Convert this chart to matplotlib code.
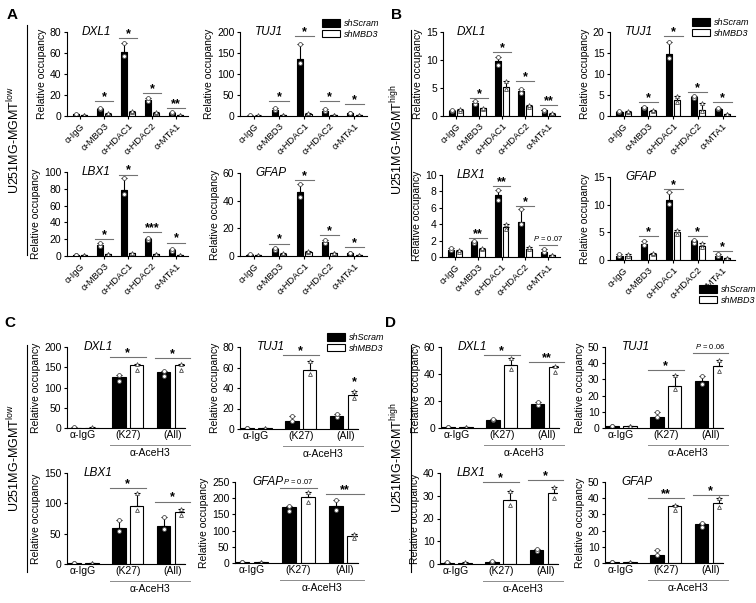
import matplotlib
matplotlib.use("Agg")
import matplotlib.pyplot as plt
import matplotlib.transforms as mtransforms
from matplotlib.patches import Patch
from matplotlib.lines import Line2D

plt.rcParams["font.family"] = ["Liberation Sans", "DejaVu Sans"]
plt.rcParams["mathtext.fontset"] = "custom"
plt.rcParams["mathtext.rm"] = "Liberation Sans"
plt.rcParams["mathtext.it"] = "Liberation Sans:italic"
plt.rcParams["axes.linewidth"] = 0.8

W, H = 756, 603

# ─── Data (mean, top of error bar) ────────────────────────────────────────────
AB_GROUPS = ["α-IgG", "α-MBD3", "α-HDAC1", "α-HDAC2", "α-MTA1"]
CD_GROUPS = ["α-IgG", "(K27)", "(All)"]

# Panel A  (U251MG-MGMT low)
A_DXL1_SCR = [1.5, 7, 61, 15, 3];        A_DXL1_SCR_TOP = [1.8, 8, 70, 17, 3.5]
A_DXL1_MBD = [1, 2, 4, 3, 1];            A_DXL1_MBD_TOP = [1.2, 2.5, 5, 3.5, 1.2]
A_DXL1_SIG = ["*", "*", "*", "**"];      A_DXL1_SIG_Y = [14, 74, 22, 8]

A_TUJ1_SCR = [1, 15, 136, 13, 7];        A_TUJ1_SCR_TOP = [1.5, 18, 172, 16, 8]
A_TUJ1_MBD = [1, 2, 5, 2, 2];            A_TUJ1_MBD_TOP = [1.5, 2.5, 6, 2.5, 2.5]
A_TUJ1_SIG = ["*", "*", "*", "*"];       A_TUJ1_SIG_Y = [35, 190, 35, 28]

A_LBX1_SCR = [1, 13, 79, 20, 7];         A_LBX1_SCR_TOP = [1.3, 15, 93, 21, 8]
A_LBX1_MBD = [1, 2, 3, 2, 1];            A_LBX1_MBD_TOP = [1.3, 2.5, 4, 2.5, 1.2]
A_LBX1_SIG = ["*", "*", "***", "*"];     A_LBX1_SIG_Y = [20, 97, 28, 16]

A_GFAP_SCR = [1, 5, 46, 10, 2];          A_GFAP_SCR_TOP = [1.2, 6, 52, 11.5, 2.5]
A_GFAP_MBD = [0.5, 1.5, 3, 2, 0.5];      A_GFAP_MBD_TOP = [0.7, 2, 3.5, 2.5, 0.8]
A_GFAP_SIG = ["*", "*", "*", "*"];       A_GFAP_SIG_Y = [9, 55, 15, 6.5]

# Panel B  (U251MG-MGMT high)
B_DXL1_SCR = [0.9, 2.3, 9.8, 4.5, 1.0];  B_DXL1_SCR_TOP = [1.1, 2.6, 10.6, 4.8, 1.1]
B_DXL1_MBD = [1.0, 1.4, 5.1, 1.8, 0.4];  B_DXL1_MBD_TOP = [1.3, 1.5, 6.2, 2.0, 0.5]
B_DXL1_SIG = ["*", "*", "*", "**"];      B_DXL1_SIG_Y = [3.2, 11.5, 6.2, 2.0]

B_TUJ1_SCR = [1.0, 2.1, 14.8, 4.6, 1.7]; B_TUJ1_SCR_TOP = [1.3, 2.2, 17.7, 4.8, 1.8]
B_TUJ1_MBD = [0.9, 1.2, 3.7, 1.4, 0.4];  B_TUJ1_MBD_TOP = [1.1, 1.5, 4.7, 3.0, 0.5]
B_TUJ1_SIG = ["*", "*", "*", "*"];       B_TUJ1_SIG_Y = [3.3, 19, 5.7, 3.3]

B_LBX1_SCR = [0.9, 1.8, 7.5, 4.3, 0.6];  B_LBX1_SCR_TOP = [1.1, 2.0, 8.2, 5.8, 1.0]
B_LBX1_MBD = [0.7, 1.0, 3.7, 1.0, 0.2];  B_LBX1_MBD_TOP = [0.8, 1.1, 4.0, 1.2, 0.3]
B_LBX1_SIG = ["**", "**", "*", "P = 0.07"]; B_LBX1_SIG_Y = [2.3, 8.7, 6.2, 1.5]

B_GFAP_SCR = [0.8, 2.9, 10.8, 3.4, 0.8]; B_GFAP_SCR_TOP = [1.0, 3.5, 12.2, 3.7, 1.0]
B_GFAP_MBD = [0.8, 1.1, 5.0, 2.6, 0.3];  B_GFAP_MBD_TOP = [1.0, 1.2, 5.4, 3.0, 0.4]
B_GFAP_SIG = ["*", "*", "*", "*"];       B_GFAP_SIG_Y = [4.3, 12.9, 4.3, 1.6]

# Panel C  (U251MG-MGMT low, α-AceH3)
C_DXL1_SCR = [1, 126, 138];    C_DXL1_SCR_TOP = [1.5, 132, 141]
C_DXL1_MBD = [1, 155, 155];    C_DXL1_MBD_TOP = [1.5, 158, 159]
C_DXL1_SIG = ["*", "*"];       C_DXL1_SIG_Y = [175, 172]

C_TUJ1_SCR = [1, 8, 13];       C_TUJ1_SCR_TOP = [1.3, 13, 15]
C_TUJ1_MBD = [1, 58, 33];      C_TUJ1_MBD_TOP = [1.3, 66, 37]
C_TUJ1_SIG = ["*", "*"];       C_TUJ1_SIG_Y = [72, None]

C_LBX1_SCR = [1, 59, 62];      C_LBX1_SCR_TOP = [1.5, 73, 78]
C_LBX1_MBD = [1, 96, 86];      C_LBX1_MBD_TOP = [1.5, 117, 90]
C_LBX1_SIG = ["*", "*"];       C_LBX1_SIG_Y = [125, 103]

C_GFAP_SCR = [2, 172, 175];    C_GFAP_SCR_TOP = [2.5, 176, 195]
C_GFAP_MBD = [2, 203, 82];     C_GFAP_MBD_TOP = [2.5, 220, 88]
C_GFAP_SIG = ["P = 0.07", "**"]; C_GFAP_SIG_Y = [232, 212]

# Panel D  (U251MG-MGMT high, α-AceH3)
D_DXL1_SCR = [0.5, 6, 18];     D_DXL1_SCR_TOP = [0.7, 7, 19]
D_DXL1_MBD = [0.5, 47, 45];    D_DXL1_MBD_TOP = [0.7, 52, 46]
D_DXL1_SIG = ["*", "**"];      D_DXL1_SIG_Y = [54, 49]

D_TUJ1_SCR = [1, 7, 29];       D_TUJ1_SCR_TOP = [1.2, 10, 32]
D_TUJ1_MBD = [1, 26, 38];      D_TUJ1_MBD_TOP = [1.2, 33, 42]
D_TUJ1_SIG = ["*", "P = 0.06"]; D_TUJ1_SIG_Y = [36, 46]

D_LBX1_SCR = [0.5, 1, 6];      D_LBX1_SCR_TOP = [0.7, 1.5, 6.5]
D_LBX1_MBD = [0.5, 28, 31];    D_LBX1_MBD_TOP = [0.7, 32, 34]
D_LBX1_SIG = ["*", "*"];       D_LBX1_SIG_Y = [36, 37]

D_GFAP_SCR = [0.5, 5, 24];     D_GFAP_SCR_TOP = [0.7, 8, 25]
D_GFAP_MBD = [0.5, 35, 37];    D_GFAP_MBD_TOP = [0.7, 36, 40]
D_GFAP_SIG = ["**", "*"];      D_GFAP_SIG_Y = [40, 42]


# ─── Helpers ──────────────────────────────────────────────────────────────────

def add_ax(fig, x0, yt, x1, yb):
    return fig.add_axes([x0 / W, 1 - yb / H, (x1 - x0) / W, (yb - yt) / H])


def sig_text(ax, x, y, label, span):
    if span:
        ax.plot([x - span, x + span], [y, y], color="0.45", lw=0.8, clip_on=False)
    if label.startswith("P"):
        ax.annotate("$P$ = " + label.split("= ")[1], (x, y), xytext=(0, 1.5),
                    textcoords="offset points", ha="center", va="bottom", fontsize=5.5)
    else:
        ax.annotate(label, (x, y), xytext=(0, -1.5), textcoords="offset points",
                    ha="center", va="bottom", fontsize=9, fontweight="bold")


def chip_panel(ax, gene, labels, scr, scr_top, mbd, mbd_top, sig, sig_y,
               ymax, ystep, wide=False):
    n = len(labels)
    off, bw = (0.2, 0.3) if wide else (0.17, 0.25)
    xs = list(range(n))
    for i in xs:
        for x, m, t, fc, mk in [(i - off, scr[i], scr_top[i], "black", "o"),
                                (i + off, mbd[i], mbd_top[i], "white", "^")]:
            ax.bar(x, m, bw, color=fc, edgecolor="black", linewidth=0.8)
            ax.errorbar(x, m, yerr=[[0], [t - m]], color="black", lw=0.8,
                        capsize=2.2, capthick=0.8)
            ax.plot([x, x], [m * 0.93, t], ls="none", marker=mk, ms=2.8,
                    mfc="white", mec="0.3", mew=0.6)
    ax.set_xlim(-0.55 if not wide else -0.36, n - 0.5 if not wide else n - 0.72)
    ax.set_ylim(0, ymax)
    ax.set_yticks([v * ystep for v in range(int(round(ymax / ystep)) + 1)])
    for s in ("top", "right"):
        ax.spines[s].set_visible(False)
    ax.tick_params(labelsize=7.5, length=2.5, width=0.8, pad=1.5)
    ax.set_ylabel("Relative occupancy", fontsize=7.5, labelpad=2)
    ax.text(0.12 if not wide else 0.14, 1.0, gene, transform=ax.transAxes,
            fontsize=8.5, style="italic", va="center", ha="left")
    ax.set_xticks(xs)
    if wide:
        ax.set_xticklabels(labels, fontsize=7.5)
        ax.tick_params(axis="x", length=0)
        tr_line = mtransforms.offset_copy(ax.get_xaxis_transform(), fig=ax.figure,
                                          y=-17, units="dots")
        tr_text = mtransforms.offset_copy(ax.get_xaxis_transform(), fig=ax.figure,
                                          y=-20, units="dots")
        ax.plot([1 - 0.4, 2 + 0.4], [0, 0], color="0.55", lw=0.7,
                transform=tr_line, clip_on=False)
        ax.text(1.5, 0, "α-AceH3", transform=tr_text, ha="center", va="top",
                fontsize=7.5)
    else:
        ax.set_xticklabels(labels, fontsize=6.8, rotation=45, ha="right",
                           rotation_mode="anchor")
    for k, (lab, y) in enumerate(zip(sig, sig_y)):
        g = k + 1
        if y is None:
            sig_text(ax, g + off, mbd_top[g] + ymax * 0.06, lab, 0)
        else:
            sig_text(ax, g, y, lab, 0.4 if wide else 0.38)


fig = plt.figure(figsize=(W / 100, H / 100), dpi=100)

# Panel A
chip_panel(add_ax(fig, 67, 32, 188, 116), "DXL1", AB_GROUPS, A_DXL1_SCR, A_DXL1_SCR_TOP,
           A_DXL1_MBD, A_DXL1_MBD_TOP, A_DXL1_SIG, A_DXL1_SIG_Y, 80, 20)
chip_panel(add_ax(fig, 240, 32, 367, 116), "TUJ1", AB_GROUPS, A_TUJ1_SCR, A_TUJ1_SCR_TOP,
           A_TUJ1_MBD, A_TUJ1_MBD_TOP, A_TUJ1_SIG, A_TUJ1_SIG_Y, 200, 50)
chip_panel(add_ax(fig, 67, 172, 188, 256), "LBX1", AB_GROUPS, A_LBX1_SCR, A_LBX1_SCR_TOP,
           A_LBX1_MBD, A_LBX1_MBD_TOP, A_LBX1_SIG, A_LBX1_SIG_Y, 100, 20)
chip_panel(add_ax(fig, 240, 173, 367, 256), "GFAP", AB_GROUPS, A_GFAP_SCR, A_GFAP_SCR_TOP,
           A_GFAP_MBD, A_GFAP_MBD_TOP, A_GFAP_SIG, A_GFAP_SIG_Y, 60, 20)

# Panel B
chip_panel(add_ax(fig, 443, 32, 560, 116), "DXL1", AB_GROUPS, B_DXL1_SCR, B_DXL1_SCR_TOP,
           B_DXL1_MBD, B_DXL1_MBD_TOP, B_DXL1_SIG, B_DXL1_SIG_Y, 15, 5)
chip_panel(add_ax(fig, 610, 32, 735, 116), "TUJ1", AB_GROUPS, B_TUJ1_SCR, B_TUJ1_SCR_TOP,
           B_TUJ1_MBD, B_TUJ1_MBD_TOP, B_TUJ1_SIG, B_TUJ1_SIG_Y, 20, 5)
chip_panel(add_ax(fig, 442, 175, 560, 257), "LBX1", AB_GROUPS, B_LBX1_SCR, B_LBX1_SCR_TOP,
           B_LBX1_MBD, B_LBX1_MBD_TOP, B_LBX1_SIG, B_LBX1_SIG_Y, 10, 2)
chip_panel(add_ax(fig, 610, 177, 735, 260), "GFAP", AB_GROUPS, B_GFAP_SCR, B_GFAP_SCR_TOP,
           B_GFAP_MBD, B_GFAP_MBD_TOP, B_GFAP_SIG, B_GFAP_SIG_Y, 15, 5)

# Panel C
chip_panel(add_ax(fig, 67, 347, 185, 428), "DXL1", CD_GROUPS, C_DXL1_SCR, C_DXL1_SCR_TOP,
           C_DXL1_MBD, C_DXL1_MBD_TOP, C_DXL1_SIG, C_DXL1_SIG_Y, 200, 50, wide=True)
chip_panel(add_ax(fig, 240, 347, 358, 429), "TUJ1", CD_GROUPS, C_TUJ1_SCR, C_TUJ1_SCR_TOP,
           C_TUJ1_MBD, C_TUJ1_MBD_TOP, C_TUJ1_SIG, C_TUJ1_SIG_Y, 80, 20, wide=True)
chip_panel(add_ax(fig, 67, 473, 185, 564), "LBX1", CD_GROUPS, C_LBX1_SCR, C_LBX1_SCR_TOP,
           C_LBX1_MBD, C_LBX1_MBD_TOP, C_LBX1_SIG, C_LBX1_SIG_Y, 150, 50, wide=True)
chip_panel(add_ax(fig, 235, 482, 358, 563), "GFAP", CD_GROUPS, C_GFAP_SCR, C_GFAP_SCR_TOP,
           C_GFAP_MBD, C_GFAP_MBD_TOP, C_GFAP_SIG, C_GFAP_SIG_Y, 250, 50, wide=True)

# Panel D
chip_panel(add_ax(fig, 441, 347, 559, 428), "DXL1", CD_GROUPS, D_DXL1_SCR, D_DXL1_SCR_TOP,
           D_DXL1_MBD, D_DXL1_MBD_TOP, D_DXL1_SIG, D_DXL1_SIG_Y, 60, 20, wide=True)
chip_panel(add_ax(fig, 605, 347, 723, 428), "TUJ1", CD_GROUPS, D_TUJ1_SCR, D_TUJ1_SCR_TOP,
           D_TUJ1_MBD, D_TUJ1_MBD_TOP, D_TUJ1_SIG, D_TUJ1_SIG_Y, 50, 10, wide=True)
chip_panel(add_ax(fig, 440, 473, 558, 564), "LBX1", CD_GROUPS, D_LBX1_SCR, D_LBX1_SCR_TOP,
           D_LBX1_MBD, D_LBX1_MBD_TOP, D_LBX1_SIG, D_LBX1_SIG_Y, 40, 10, wide=True)
chip_panel(add_ax(fig, 605, 482, 723, 563), "GFAP", CD_GROUPS, D_GFAP_SCR, D_GFAP_SCR_TOP,
           D_GFAP_MBD, D_GFAP_MBD_TOP, D_GFAP_SIG, D_GFAP_SIG_Y, 50, 10, wide=True)

# ─── Legends, side labels, panel letters ──────────────────────────────────────
handles = [Patch(facecolor="black", edgecolor="black", lw=0.8, label="shScram"),
           Patch(facecolor="white", edgecolor="black", lw=0.8, label="shMBD3")]
for lx, ly in [(322, 19), (692, 18), (327, 333), (699, 285)]:
    fig.legend(handles=handles, loc="upper left", bbox_to_anchor=(lx / W, 1 - ly / H),
               frameon=False, prop={"size": 6.5, "style": "italic"}, handlelength=2.0,
               handleheight=0.9, handletextpad=0.4, labelspacing=0.2, borderpad=0,
               borderaxespad=0)

sides = [(14, 27, 25, 255, 140, "low"), (397, 411, 30, 255, 140, "high"),
         (14, 27, 345, 572, 458, "low"), (397, 411, 345, 572, 458, "high")]
for tx, lx, y0, y1, yc, sup in sides:
    fig.add_artist(Line2D([lx / W, lx / W], [1 - y0 / H, 1 - y1 / H], color="black", lw=0.8))
    fig.text(tx / W, 1 - yc / H, "U251MG-MGMT$^{\\mathrm{%s}}$" % sup, rotation=90,
             ha="center", va="center", fontsize=9)

for letter, x, y in [("A", 12, 15), ("B", 397, 15), ("C", 10, 323), ("D", 390, 323)]:
    fig.text(x / W, 1 - y / H, letter, fontsize=11, fontweight="bold", ha="center", va="center")

fig.savefig("out.png", dpi=100)
